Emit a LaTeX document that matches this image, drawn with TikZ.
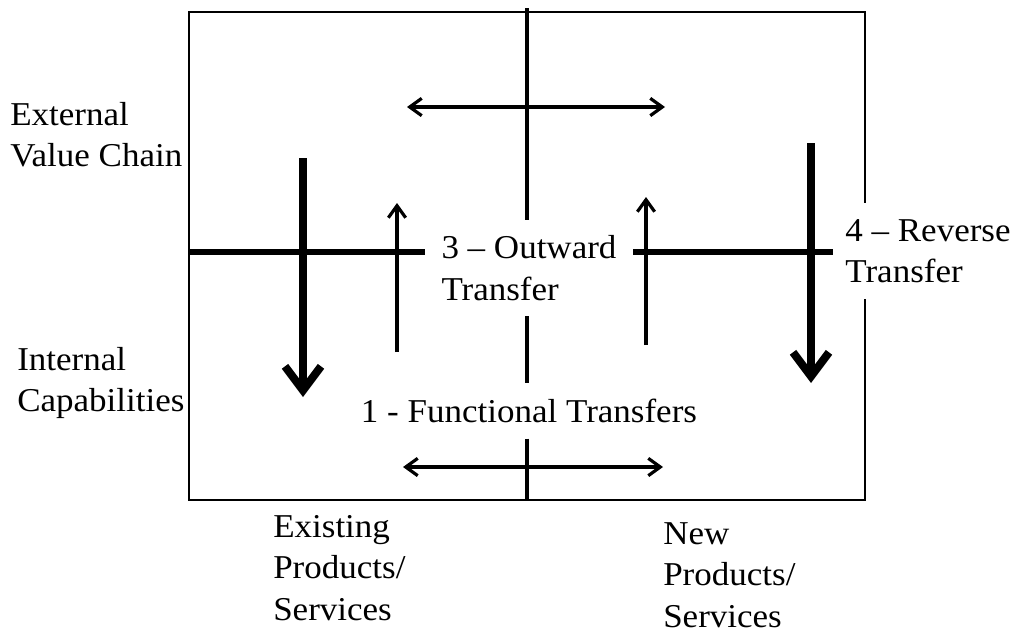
\documentclass[tikz,border=0pt]{standalone}
\usepackage{fontspec}
\setmainfont{Liberation Serif}[FakeStretch=1.05]
\usetikzlibrary{arrows.meta, positioning, calc}
\newcommand\lbfont{\fontsize{25}{31}\selectfont}

\begin{document}
\begin{tikzpicture}[
    x=0.75pt, y=-0.75pt,
    lbl/.style={align=left, inner sep=0pt, font=\lbfont},
    gap/.style={align=left, inner sep=0pt, font=\lbfont},
    frame/.style={line width=1.3pt},
    axis/.style={line width=2.4pt},
    split/.style={line width=4.5pt},
    flow/.style={line width=2.4pt, -{Straight Barb[length=9pt, width=13pt]}},
    both/.style={line width=2.4pt,
        {Straight Barb[length=9pt, width=13pt]}-{Straight Barb[length=9pt, width=13pt]}},
    bigflow/.style={line width=6pt, -{Straight Barb[length=18pt, width=27pt]}},
]
\useasboundingbox (0,0) rectangle (1016,633);

% ── Anchor points ──
\coordinate (bxnw) at (189,12);
\coordinate (bxse) at (865,500);
\coordinate (ctop) at (527,8);
\coordinate (cbot) at (527,500);
\coordinate (mleft) at (189,252);
\coordinate (mright) at (833,252);

% ── Texts inside and beside the grid ──
\node[gap, minimum width=156pt, minimum height=72pt] (outward) at (529,268)
    {3 – Outward\\Transfer};
\node[gap, minimum height=41pt] (func) at (529,411)
    {1 - Functional Transfers};
\node[gap, minimum height=72pt] (rev) at (928,251)
    {4 – Reverse\\Transfer};

\node[lbl, anchor=west] (ext) at (10,135) {External\\Value Chain};
\node[lbl, anchor=west] (int) at (17,383) {Internal\\Capabilities};
\node[lbl, anchor=west] (exist) at (273,568) {Existing\\Products/\\Services};
\node[lbl, anchor=west] (new) at (663,575) {New\\Products/\\Services};

% ── Frame ──
\draw[frame] (rev.south -| bxse) -- (bxse) -| (bxnw) -| (rev.north -| bxse);

% ── Centre line ──
\draw[axis] (ctop) -- (ctop |- outward.north);
\draw[axis] (outward.south -| ctop) -- (func.north -| ctop);
\draw[axis] (func.south -| ctop) -- (cbot);

% ── Middle line ──
\draw[split] (mleft) -- (mleft -| outward.west);
\draw[split] (mleft -| outward.east) -- (mright);

% ── Transfer arrows ──
\coordinate (topL) at (407,107);
\coordinate (topR) at (665,107);
\coordinate (botL) at (403,467);
\coordinate (botR) at (663,467);
\draw[both] (topL) -- (topR);
\draw[both] (botL) -- (botR);

\coordinate (upLs) at (397,352);
\coordinate (upLe) at (397,203);
\coordinate (upRs) at (646,345);
\coordinate (upRe) at (646,197);
\draw[flow] (upLs) -- (upLe);
\draw[flow] (upRs) -- (upRe);

\coordinate (dnLs) at (303,158);
\coordinate (dnLe) at (303,397);
\coordinate (dnRs) at (811,143);
\coordinate (dnRe) at (811,383);
\draw[bigflow] (dnLs) -- (dnLe);
\draw[bigflow] (dnRs) -- (dnRe);

\end{tikzpicture}
\end{document}
